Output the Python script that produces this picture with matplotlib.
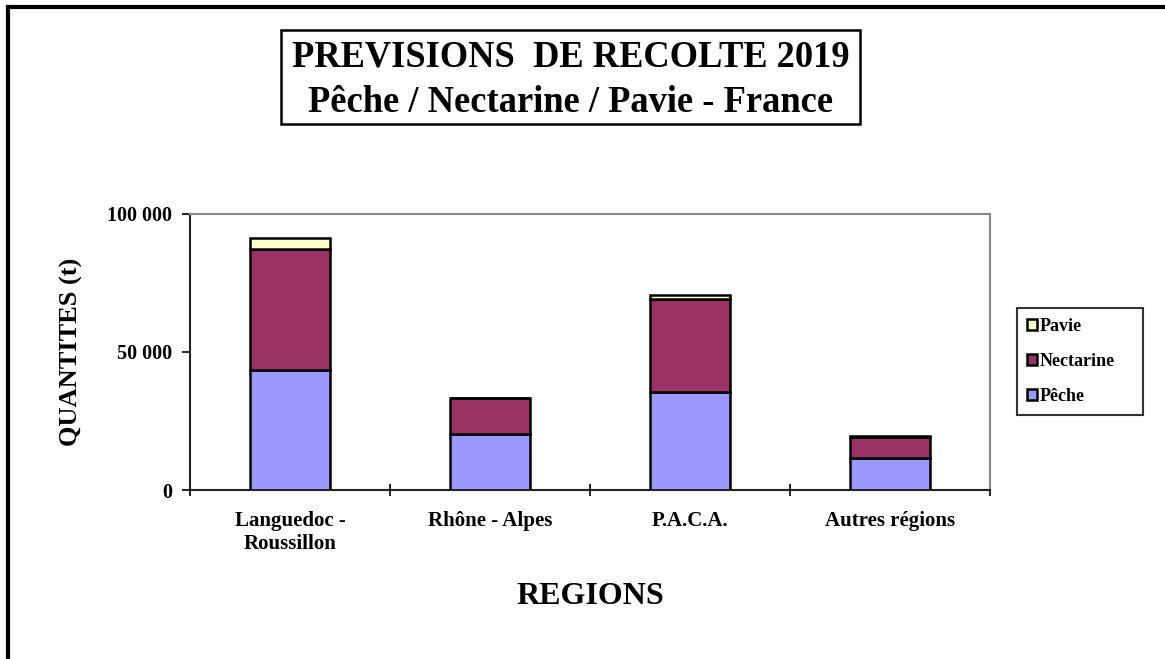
import matplotlib
matplotlib.use('Agg')
import matplotlib.pyplot as plt
from matplotlib.lines import Line2D
from matplotlib.patches import Rectangle
from matplotlib.ticker import FuncFormatter
import numpy as np

plt.rcParams['font.family'] = ['Liberation Serif', 'DejaVu Serif']
plt.rcParams['font.weight'] = 'bold'

regions = ['Languedoc -\nRoussillon', 'Rhône - Alpes', 'P.A.C.A.', 'Autres régions']
peche = [43400, 20200, 35400, 11500]
nectarine = [43800, 13000, 33900, 7800]
pavie = [4000, 200, 1400, 400]

series_names = ['Pêche', 'Nectarine', 'Pavie']
series_colors = ['#9999FF', '#993366', '#FFFFCC']

W, H = 1165, 659
fig = plt.figure(figsize=(W / 100, H / 100), dpi=100)
ax = fig.add_axes([190 / W, 1 - 490 / H, 800 / W, 276 / H])

x = np.arange(len(regions))
bottom = np.zeros(len(regions))
bars = []
for vals, name, col in zip([peche, nectarine, pavie], series_names, series_colors):
    b = ax.bar(x, vals, width=0.4, bottom=bottom, color=col, edgecolor='black',
               linewidth=1.8, label=name, zorder=3)
    bars.append(b)
    bottom += np.array(vals)

ax.set_xlim(-0.5, len(regions) - 0.5)
ax.set_ylim(0, 100000)
ax.set_yticks([0, 50000, 100000])
ax.yaxis.set_major_formatter(FuncFormatter(lambda v, p: f'{int(v):,}'.replace(',', ' ')))
ax.tick_params(axis='y', direction='out', length=6, width=1.2, labelsize=14.5, pad=7)

ax.set_xticks(x)
ax.set_xticklabels(regions, fontsize=15, fontweight='bold', linespacing=1.2)
ax.tick_params(axis='x', which='major', length=0, pad=15)
ax.set_xticks(np.arange(-0.5, len(regions)), minor=True)
ax.tick_params(axis='x', which='minor', direction='inout', length=9, width=1.2)

for s in ['left', 'bottom']:
    ax.spines[s].set_color('#222222')
    ax.spines[s].set_linewidth(1.5)
for s in ['top', 'right']:
    ax.spines[s].set_color('#888888')
    ax.spines[s].set_linewidth(1.5)

ax.set_ylabel('QUANTITES (t)', fontsize=19, fontweight='bold', labelpad=17)
ax.set_xlabel('REGIONS', fontsize=23, fontweight='bold', labelpad=20)

handles = [bars[2], bars[1], bars[0]]
leg = fig.legend(handles, ['Pavie', 'Nectarine', 'Pêche'],
                 loc='upper left', mode='expand',
                 bbox_to_anchor=(1017 / W, 1 - 412 / H, 126 / W, 104 / H),
                 frameon=True, fancybox=False, edgecolor='black',
                 prop={'size': 13, 'weight': 'bold'},
                 handlelength=0.55, handleheight=0.55, handletextpad=0.15,
                 labelspacing=1.0, borderpad=0.55, borderaxespad=0)
leg.get_frame().set_linewidth(1.5)

fig.add_artist(Rectangle((281 / W, 1 - 124 / H), 579 / W, 94 / H, transform=fig.transFigure,
                         facecolor='white', edgecolor='black', linewidth=1.8))
fig.text(571 / W, 1 - 80 / H,
         'PREVISIONS  DE RECOLTE 2019\nPêche / Nectarine / Pavie - France',
         ha='center', va='center', fontsize=26.3, fontweight='bold', linespacing=1.38)

fig.add_artist(Line2D([8 / W, 8 / W], [0, 1 - 7 / H], color='black', lw=3))
fig.add_artist(Line2D([8 / W, 1], [1 - 7 / H, 1 - 7 / H], color='black', lw=3))

fig.savefig('out.png', dpi=100)
